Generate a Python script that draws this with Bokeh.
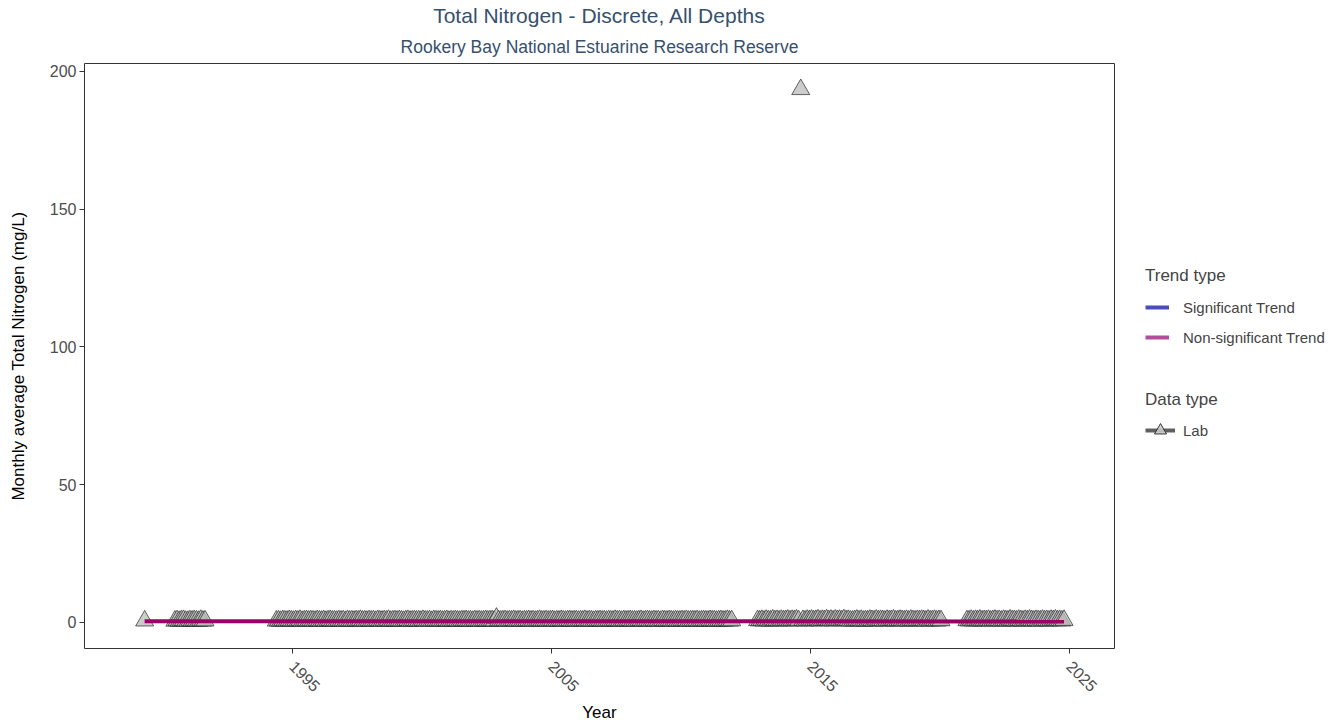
import numpy as np
from bokeh.plotting import figure
from bokeh.layouts import row
from bokeh.models import Range1d, FixedTicker, Legend, LegendItem, Title
from bokeh.embed import file_html
from bokeh.resources import INLINE

# ---------------- data (monthly average Total Nitrogen, mg/L) ----------------
# each period: first sampled (year, month) followed by consecutive monthly values
p1_start = (1989, 4)
p1_tn = [0.62]

p2_start = (1990, 6)
p2_tn = [0.55, 0.71, 0.48, 0.66, 0.80, 0.52, 0.45, 0.69, 0.58, 0.74, 0.61, 0.50,
         0.83, 0.57, 0.64]

p3a_start = (1994, 5)
p3a_tn = [0.58, 0.66, 0.49, 0.72, 0.61, 0.54, 0.77, 0.63,
          0.52, 0.68, 0.59, 0.81, 0.47, 0.64, 0.73, 0.56, 0.69, 0.60, 0.51, 0.75,
          0.62, 0.55, 0.70, 0.48, 0.66, 0.79, 0.57, 0.63, 0.52, 0.71, 0.60, 0.68,
          0.45, 0.74, 0.58, 0.65, 0.53, 0.69, 0.61, 0.82, 0.56, 0.64, 0.50, 0.72,
          0.59, 0.67, 0.48, 0.76, 0.62, 0.55, 0.70, 0.58, 0.85, 0.51, 0.63, 0.69,
          0.57, 0.74, 0.60, 0.49, 0.66, 0.78, 0.54, 0.62, 0.71, 0.58, 0.65, 0.52,
          0.80, 0.61, 0.56, 0.68, 0.47, 0.73, 0.64, 0.59, 0.70, 0.55, 0.62, 0.77,
          0.51, 0.66, 0.58, 0.72, 0.60, 0.53, 0.69, 0.63, 0.75, 0.57, 0.64, 0.50,
          0.71, 0.59, 0.67, 0.55, 0.62, 0.74, 0.58, 0.66, 0.69, 0.61, 1.62, 0.70]

p3b_start = (2003, 1)
p3b_tn = [0.57, 0.64, 0.72, 0.53, 0.68, 0.60, 0.79, 0.55, 0.63, 0.71, 0.49, 0.66,
          0.61, 0.74, 0.56, 0.69, 0.52, 0.65, 0.83, 0.58, 0.62, 0.70, 0.54, 0.67,
          0.73, 0.50, 0.64, 0.59, 0.76, 0.61, 0.55, 0.68, 0.72, 0.57, 0.63, 0.69,
          0.52, 0.66, 0.60, 0.78, 0.56, 0.71, 0.64, 0.49, 0.67, 0.62, 0.75, 0.58,
          0.65, 0.54, 0.70, 0.61, 0.57, 0.80, 0.63, 0.68, 0.51, 0.72, 0.59, 0.66,
          0.74, 0.58, 0.62, 0.55, 0.69, 0.77, 0.53, 0.64, 0.70, 0.60, 0.56, 0.73,
          0.61, 0.67, 0.50, 0.75, 0.63, 0.58, 0.71, 0.66, 0.54, 0.69, 0.62, 0.57,
          0.72, 0.60, 0.79, 0.55, 0.65, 0.68, 0.59, 0.74, 0.52, 0.63, 0.70, 0.61,
          0.57, 0.76, 0.64, 0.69, 0.53, 0.66, 0.72, 0.58, 0.62, 0.81, 0.60, 0.67]

p4_start = (2012, 12)
p4_tn = [0.74,
         0.66, 0.81, 0.59, 0.88, 0.72, 0.63, 0.95, 0.70, 0.78, 0.61, 0.85, 0.69,
         0.76, 0.90, 0.64, 0.83, 0.71, 0.97, 0.68, 193.5, 0.79, 0.62, 0.87, 0.73,
         0.92, 0.67, 0.80, 0.99, 0.65, 0.84, 0.75, 1.02, 0.70, 0.88, 0.63, 0.94,
         0.77, 0.86, 0.69, 1.05, 0.72, 0.81, 0.60, 0.58, 0.74, 0.91, 0.66, 0.83,
         0.55, 0.71, 0.64, 0.89, 0.76, 0.62, 0.93, 0.68, 0.80, 0.73, 0.57, 0.85,
         0.67, 0.78, 0.94, 0.61, 0.70, 0.87, 0.75, 0.64, 0.82, 0.59, 0.90, 0.72,
         0.63, 0.79, 0.68, 0.86, 0.74, 0.58, 0.92, 0.66, 0.71, 0.84, 0.60, 0.77,
         0.69]

p5_start = (2021, 1)
p5_tn = [0.72, 0.65, 0.88, 0.59, 0.81, 0.70, 0.93, 0.63, 0.77, 0.68, 0.85, 0.61,
         0.74, 0.90, 0.66, 0.79, 0.57, 0.84, 0.71, 0.64, 0.96, 0.69, 0.76, 0.62,
         0.87, 0.73, 0.58, 0.82, 0.67, 0.91, 0.75, 0.60, 0.80, 0.70, 0.64, 0.89,
         0.68, 0.78, 0.61, 0.85, 0.72, 0.94, 0.66, 0.79, 0.63, 0.83]

# non-significant trend line, endpoints in mg/L
trend_start_tn = 0.45
trend_end_tn = 0.39

y_ticks = [0, 50, 100, 150, 200]
x_ticks = [1995, 2005, 2015, 2025]

# ---------------- build positions (decimal years, mid-month) ----------------
periods = [(p1_start, p1_tn), (p2_start, p2_tn), (p3a_start, p3a_tn),
           (p3b_start, p3b_tn), (p4_start, p4_tn), (p5_start, p5_tn)]
xs, ys = [], []
for (y0, m0), vals in periods:
    for i, v in enumerate(vals):
        xs.append(y0 + (m0 - 0.5 + i) / 12.0)
        ys.append(v)

trend_x = [xs[0], xs[-1]]
trend_y = [trend_start_tn, trend_end_tn]

FONT = "Liberation Sans"
TITLE_COLOR = "#36506E"

p = figure(width=1124, height=725,
           x_range=Range1d(1986.97, 2026.74), y_range=Range1d(-9.44, 202.9),
           output_backend="svg", toolbar_location=None,
           min_border_left=84, min_border_right=10,
           min_border_top=63, min_border_bottom=77)
p.background_fill_color = "white"
p.border_fill_color = "white"
p.outline_line_color = "#333333"
p.outline_line_width = 1
p.xgrid.visible = False
p.ygrid.visible = False

p.add_layout(Title(text="Rookery Bay National Estuarine Research Reserve",
                   align="center", text_font=FONT, text_font_size="17.5px",
                   text_font_style="normal", text_color=TITLE_COLOR,
                   standoff=13), "above")
p.add_layout(Title(text="Total Nitrogen - Discrete, All Depths",
                   align="center", text_font=FONT, text_font_size="21px",
                   text_font_style="normal", text_color=TITLE_COLOR,
                   standoff=3), "above")

for ax in (p.xaxis[0], p.yaxis[0]):
    ax.axis_line_color = None
    ax.major_tick_line_color = "#333333"
    ax.major_tick_out = 5
    ax.major_tick_in = 0
    ax.minor_tick_line_color = None
    ax.major_label_text_color = "#4D4D4D"
    ax.major_label_text_font = FONT
    ax.major_label_text_font_size = "16px"
    ax.axis_label_text_font = FONT
    ax.axis_label_text_font_size = "17px"
    ax.axis_label_text_font_style = "normal"
    ax.axis_label_text_color = "black"

p.xaxis[0].ticker = FixedTicker(ticks=x_ticks)
p.yaxis[0].ticker = FixedTicker(ticks=y_ticks)
p.xaxis[0].axis_label = "Year"
p.yaxis[0].axis_label = "Monthly average Total Nitrogen (mg/L)"
p.xaxis[0].major_label_orientation = -np.pi / 4
p.xaxis[0].major_label_standoff = 10
p.xaxis[0].axis_label_standoff = 3
p.yaxis[0].major_label_standoff = 3
p.yaxis[0].axis_label_standoff = 19

# data points
p.scatter(xs, ys, marker="triangle", size=18,
          fill_color="#bbbbbb", fill_alpha=0.75,
          line_color="#333333", line_alpha=0.75, line_width=1)

# trend line
p.line(trend_x, trend_y, line_color="#990066", line_width=4)

# ---------------- legend panel ----------------
lg = figure(width=216, height=725, x_range=Range1d(0, 1), y_range=Range1d(0, 1),
            output_backend="svg", toolbar_location=None,
            x_axis_type=None, y_axis_type=None, min_border=0)
lg.outline_line_color = None
lg.background_fill_color = "white"
lg.border_fill_color = "white"
lg.xgrid.visible = False
lg.ygrid.visible = False

nan = [float("nan")]
sig_r = lg.line(nan, nan, line_color="#4C4CBF", line_width=4)
nonsig_r = lg.line(nan, nan, line_color="#B24C9C", line_width=4)
lab_line = lg.line(nan, nan, line_color="#444444", line_width=4, line_alpha=0.85)
lab_pt = lg.scatter(nan, nan, marker="triangle", fill_color="#cccccc",
                    fill_alpha=0.85, line_color="#333333", line_width=1)

common = dict(border_line_color=None, background_fill_alpha=0, padding=0, margin=0,
              label_text_font=FONT, label_text_font_size="15px",
              title_text_font=FONT, title_text_font_size="17px",
              title_text_font_style="normal", spacing=10)

leg1 = Legend(items=[LegendItem(label="Significant Trend", renderers=[sig_r]),
                     LegendItem(label="Non-significant Trend", renderers=[nonsig_r])],
              title="Trend type", location=(21, 301),
              glyph_width=24, glyph_height=20, label_height=20,
              label_standoff=14, title_standoff=11, **common)
leg2 = Legend(items=[LegendItem(label="Lab", renderers=[lab_line, lab_pt])],
              title="Data type", location=(21, 203),
              glyph_width=30, glyph_height=30, label_height=30,
              label_standoff=8, title_standoff=5, **common)
lg.add_layout(leg1, "center")
lg.add_layout(leg2, "center")

layout = row(p, lg, spacing=0)
open("out.html", "w").write(file_html(layout, INLINE))
